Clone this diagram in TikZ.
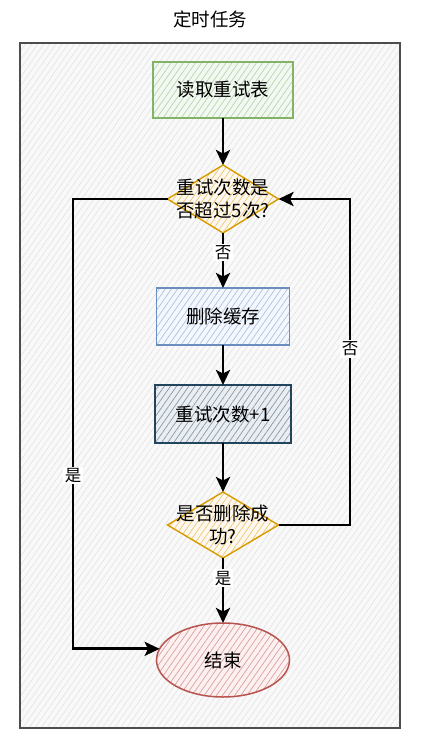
\documentclass[tikz,border=0pt]{standalone}
\usepackage{fontspec}
\setmainfont{Noto Sans CJK SC}
\usepackage{tikz}
\usetikzlibrary{arrows.meta,positioning,shapes.geometric,patterns.meta}
\definecolor{greenline}{HTML}{82B366}\definecolor{greenfill}{HTML}{D5E8D4}
\definecolor{blueline}{HTML}{6C8EBF}\definecolor{bluefill}{HTML}{DAE8FC}
\definecolor{slateline}{HTML}{23445D}\definecolor{slatefill}{HTML}{BAC8D3}
\definecolor{orangeline}{HTML}{D79B00}\definecolor{orangefill}{HTML}{FFE6CC}
\definecolor{redline}{HTML}{B85450}\definecolor{redfill}{HTML}{F8CECC}
\definecolor{frameline}{HTML}{4D4D4D}\definecolor{framefill}{HTML}{F5F5F5}

\begin{document}
\begin{tikzpicture}[x=1pt, y=1pt, >={Stealth[length=15pt,width=14pt,inset=3.5pt]},
  every node/.style={font=\fontsize{18.5}{23}\selectfont},
  hatch/.style={preaction={fill=#1fill!30}, pattern={Lines[angle=55,distance=5pt,line width=0.7pt]}, pattern color=#1line!55},
  frame/.style={draw=frameline, line width=1.8pt, preaction={fill=framefill!60}, pattern={Lines[angle=55,distance=5pt,line width=0.6pt]}, pattern color=black!11, minimum width=380pt, minimum height=685pt},
  box/.style={draw=#1line, line width=1.4pt, hatch=#1, minimum height=57pt, inner sep=0pt, outer sep=0pt},
  decision/.style={diamond, draw=orangeline, line width=1.4pt, hatch=orange, minimum width=111pt, inner sep=0pt, outer sep=0pt},
  stop/.style={ellipse, draw=redline, line width=1.5pt, hatch=red, minimum width=133pt, minimum height=74pt, inner sep=0pt, outer sep=0pt},
  flow/.style={draw, line width=2.8pt, ->},
  lbl/.style={fill=white, inner sep=1.5pt, font=\fontsize{16.5}{16.5}\selectfont}]
  \useasboundingbox (0,0) rectangle (426,-743);
  \node[frame] (task) at (210,-385.5) {};
  \node[above=14pt of task, inner sep=0pt] (title) {定时任务};
  \node[box=green, minimum width=140pt, minimum height=56pt] (read) at (223,-90) {读取重试表};
  \node[decision, minimum height=68pt, below=47pt of read,
    label={[align=center]center:{重试次数是\\否超过5次?}}] (check) {};
  \node[box=blue, minimum width=133pt, below=55pt of check] (del) {删除缓存};
  \node[box=slate, minimum width=136pt, minimum height=58pt, below=40pt of del] (inc) {重试次数+1};
  \node[decision, minimum height=66pt, below=49pt of inc,
    label={[align=center]center:{是否删除成\\功?}}] (ok) {};
  \node[stop, below=65pt of ok] (done) {结束};
  \coordinate (lx) at (73,0);
  \coordinate (rx) at (350,0);
  \draw[flow] (read) -- (check);
  \draw[flow] (check) -- node[lbl, pos=.36] (no1) {否} (del);
  \draw[flow] (del) -- (inc);
  \draw[flow] (inc) -- (ok);
  \draw[flow] (ok) -- node[lbl, pos=.31] (yes1) {是} (done);
  \draw[flow] (check.west) -- (check.west -| lx) -- node[lbl, pos=.615] (yes2) {是} (lx |- done.170) -- (done.170);
  \draw[flow] (ok.east) -- (ok.east -| rx) -- node[lbl, pos=.54] (no2) {否} (rx |- check.east) -- (check.east);
\end{tikzpicture}
\end{document}
